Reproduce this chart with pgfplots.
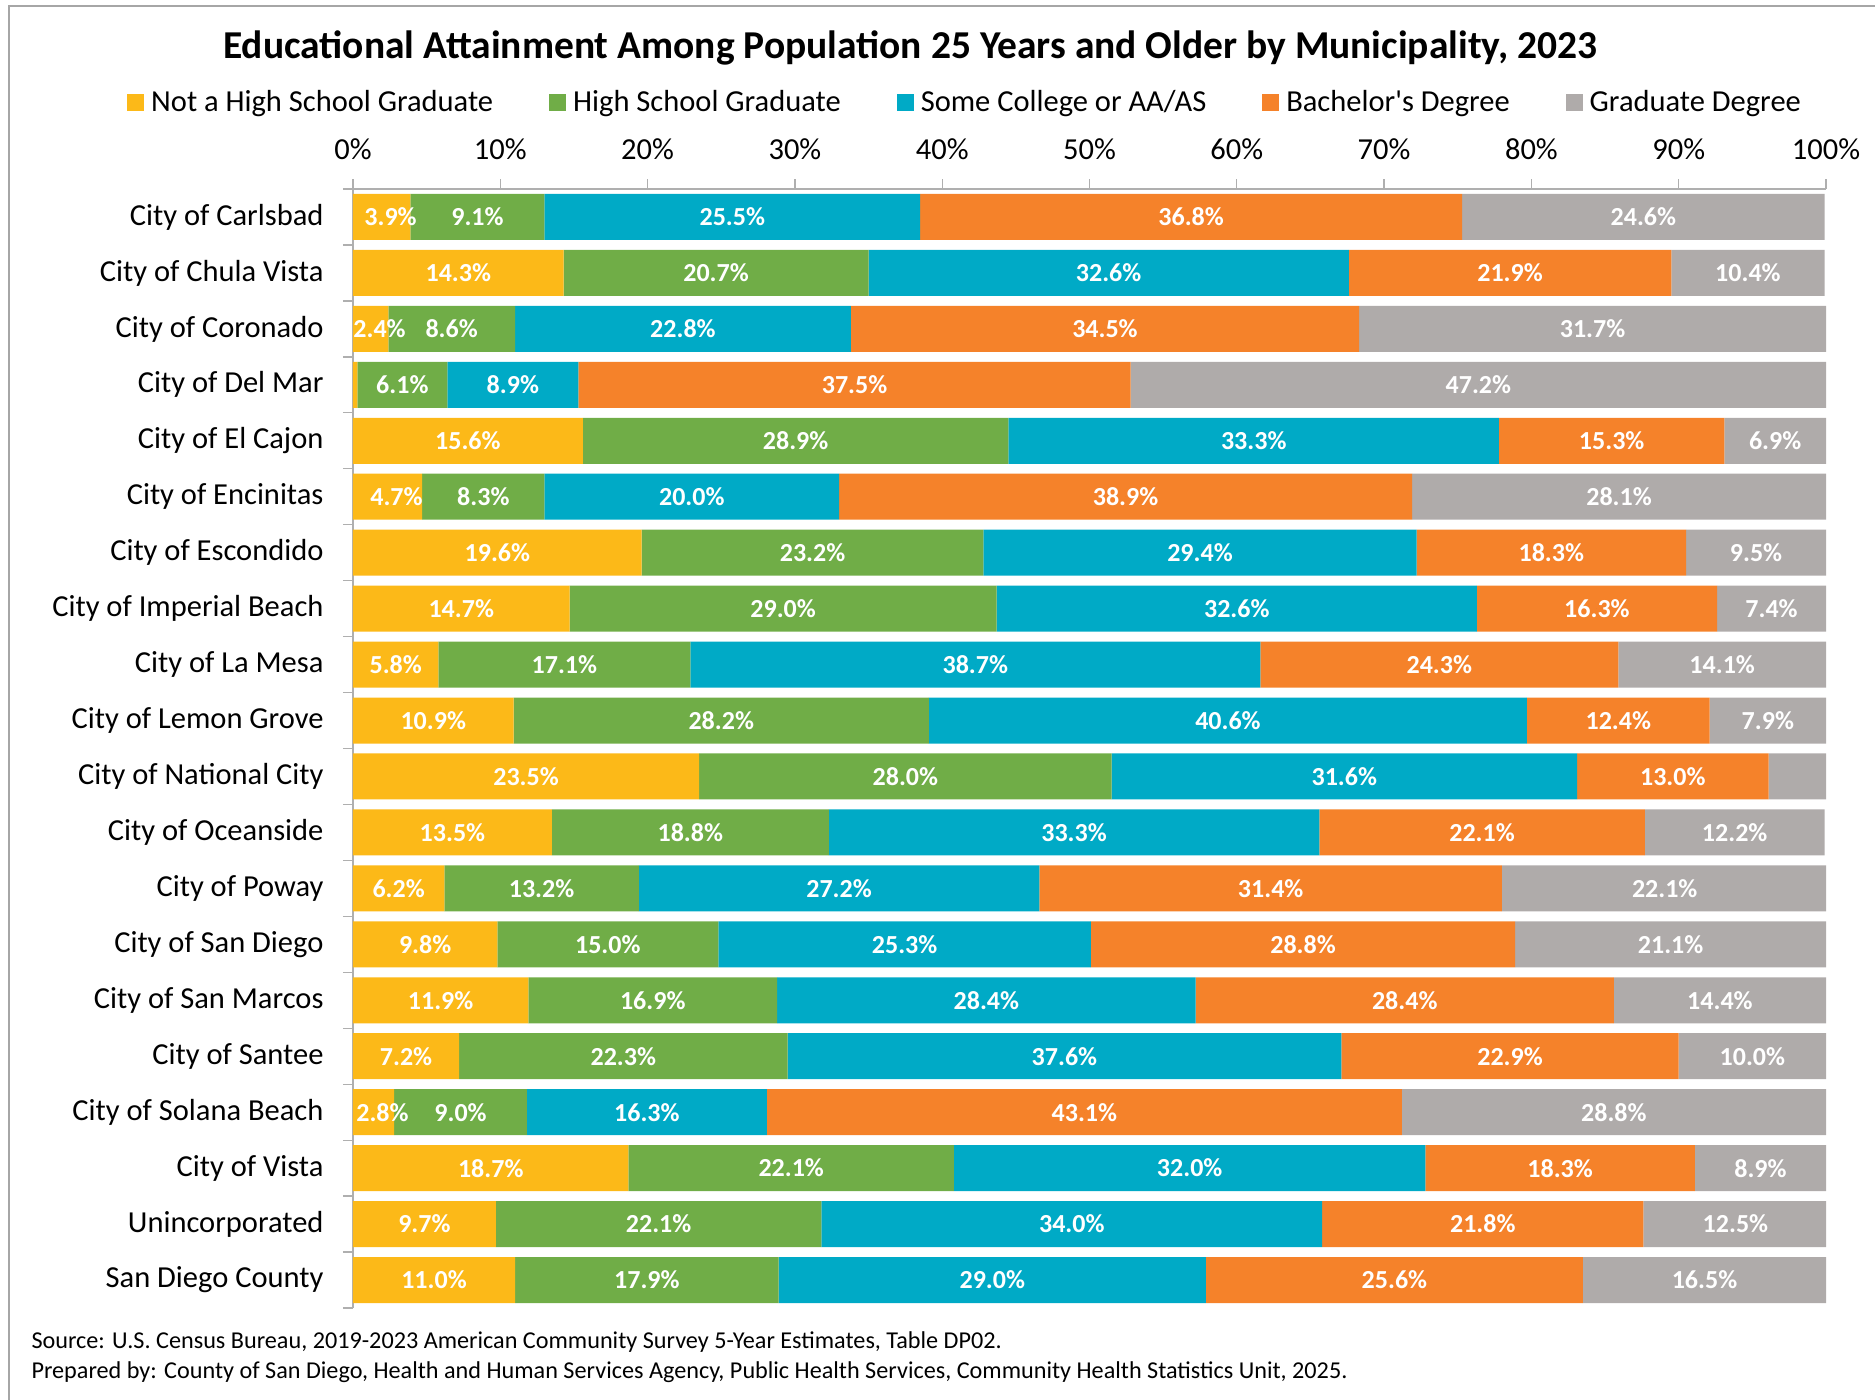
\documentclass[border=0pt]{standalone}
\usepackage{pgfplots}
\usepackage{pgfplotstable}
\pgfplotsset{compat=1.18}
\usepackage{fontspec}
\setmainfont{Carlito}
\definecolor{cY}{RGB}{252,185,24}
\definecolor{cG}{RGB}{112,173,71}
\definecolor{cB}{RGB}{0,170,198}
\definecolor{cO}{RGB}{245,130,42}
\definecolor{cR}{RGB}{175,171,170}
\definecolor{axgray}{RGB}{175,175,175}

\pgfplotstableread{
row a b c d e
19 3.9 9.1 25.5 36.8 24.6
18 14.3 20.7 32.6 21.9 10.4
17 2.4 8.6 22.8 34.5 31.7
16 0.3 6.1 8.9 37.5 47.2
15 15.6 28.9 33.3 15.3 6.9
14 4.7 8.3 20.0 38.9 28.1
13 19.6 23.2 29.4 18.3 9.5
12 14.7 29.0 32.6 16.3 7.4
11 5.8 17.1 38.7 24.3 14.1
10 10.9 28.2 40.6 12.4 7.9
9 23.5 28.0 31.6 13.0 3.9
8 13.5 18.8 33.3 22.1 12.2
7 6.2 13.2 27.2 31.4 22.1
6 9.8 15.0 25.3 28.8 21.1
5 11.9 16.9 28.4 28.4 14.4
4 7.2 22.3 37.6 22.9 10.0
3 2.8 9.0 16.3 43.1 28.8
2 18.7 22.1 32.0 18.3 8.9
1 9.7 22.1 34.0 21.8 12.5
0 11.0 17.9 29.0 25.6 16.5
}\data

\begin{document}
\begin{tikzpicture}
\useasboundingbox (0,-1400pt) rectangle (1875pt,0pt);
\draw[gray!70, line width=1.2pt] (9pt,-1400pt) -- (9pt,-6pt) -- (1875pt,-6pt);
\node[font=\fontsize{39.5}{44}\selectfont\bfseries] at (910pt,-48pt) {Educational Attainment Among Population 25 Years and Older by Municipality, 2023};
\node[anchor=west, font=\fontsize{24.2}{28}\selectfont] at (28pt,-1342pt) {Source: U.S. Census Bureau, 2019-2023 American Community Survey 5-Year Estimates, Table DP02.};
\node[anchor=west, font=\fontsize{24.2}{28}\selectfont] at (28pt,-1372pt) {Prepared by: County of San Diego, Health and Human Services Agency, Public Health Services, Community Health Statistics Unit, 2025.};
\pgfplotsset{
  common/.style={
    at={(353pt,-1308pt)}, anchor=south west,
    scale only axis, width=1473pt, height=1119pt,
    xmin=0, xmax=100, ymin=-0.5, ymax=19.5,
    /pgf/number format/assume math mode=true,
  }
}
\begin{axis}[common,
  xbar stacked, bar width=46pt,
  axis x line*=top, axis y line*=left,
  axis line style={draw=axgray, line width=1.3pt},
  tick style={draw=axgray, line width=1.3pt},
  tick align=outside, major tick length=10pt,
  xtick={0,10,...,100},
  xticklabel={\pgfmathprintnumber{\tick}\%},
  xticklabel style={font=\fontsize{30.5}{35}\selectfont, yshift=16pt},
  ytick={-0.5,0.5,...,19.5},
  yticklabels={},
  extra y ticks={0,1,...,19},
  extra y tick labels={San Diego County,Unincorporated,City of Vista,City of Solana Beach,City of Santee,City of San Marcos,City of San Diego,City of Poway,City of Oceanside,City of National City,City of Lemon Grove,City of La Mesa,City of Imperial Beach,City of Escondido,City of Encinitas,City of El Cajon,City of Del Mar,City of Coronado,City of Chula Vista,City of Carlsbad},
  extra y tick style={major tick length=0pt, yticklabel style={font=\fontsize{30.5}{35}\selectfont, xshift=-26pt}},
  legend columns=5,
  legend style={at={(0.4155,1.0777)}, anchor=center, draw=none, fill=none,
    font=\fontsize{30.5}{35}\selectfont,
    /tikz/every odd column/.append style={column sep=5pt},
    /tikz/every even column/.append style={column sep=54pt}},
  legend image code/.code={\fill[#1] (0pt,-8.5pt) rectangle (17pt,8.5pt);},
]
\addplot[fill=cY, draw=none] table[x=a, y=row] {\data};
\addlegendentry{Not a High School Graduate}
\addplot[fill=cG, draw=none] table[x=b, y=row] {\data};
\addlegendentry{High School Graduate}
\addplot[fill=cB, draw=none] table[x=c, y=row] {\data};
\addlegendentry{Some College or AA/AS}
\addplot[fill=cO, draw=none] table[x=d, y=row] {\data};
\addlegendentry{Bachelor\textquotesingle s Degree}
\addplot[fill=cR, draw=none] table[x=e, y=row] {\data};
\addlegendentry{Graduate Degree}
\end{axis}
\begin{axis}[common, hide axis,
  nodes near coords={\pgfmathprintnumber[fixed,fixed zerofill,precision=1]{\pgfplotspointmeta}\%},
  every node near coord/.append style={anchor=center, text=white, font=\fontsize{26}{30}\selectfont\bfseries},
]
\addplot[only marks, mark=*, mark size=0pt, mark options={draw=none, fill=none}, point meta=explicit, skip coords between index={3}{4}]
  table[x expr=\thisrow{a}/2+(\thisrow{a}<5)*0.6, y=row, meta=a] {\data};
\addplot[only marks, mark=*, mark size=0pt, mark options={draw=none, fill=none}, point meta=explicit]
  table[x expr=\thisrow{a}+\thisrow{b}/2, y=row, meta=b] {\data};
\addplot[only marks, mark=*, mark size=0pt, mark options={draw=none, fill=none}, point meta=explicit]
  table[x expr=\thisrow{a}+\thisrow{b}+\thisrow{c}/2, y=row, meta=c] {\data};
\addplot[only marks, mark=*, mark size=0pt, mark options={draw=none, fill=none}, point meta=explicit]
  table[x expr=\thisrow{a}+\thisrow{b}+\thisrow{c}+\thisrow{d}/2, y=row, meta=d] {\data};
\addplot[only marks, mark=*, mark size=0pt, mark options={draw=none, fill=none}, point meta=explicit, skip coords between index={10}{11}]
  table[x expr=\thisrow{a}+\thisrow{b}+\thisrow{c}+\thisrow{d}+\thisrow{e}/2, y=row, meta=e] {\data};
\end{axis}
\end{tikzpicture}
\end{document}
